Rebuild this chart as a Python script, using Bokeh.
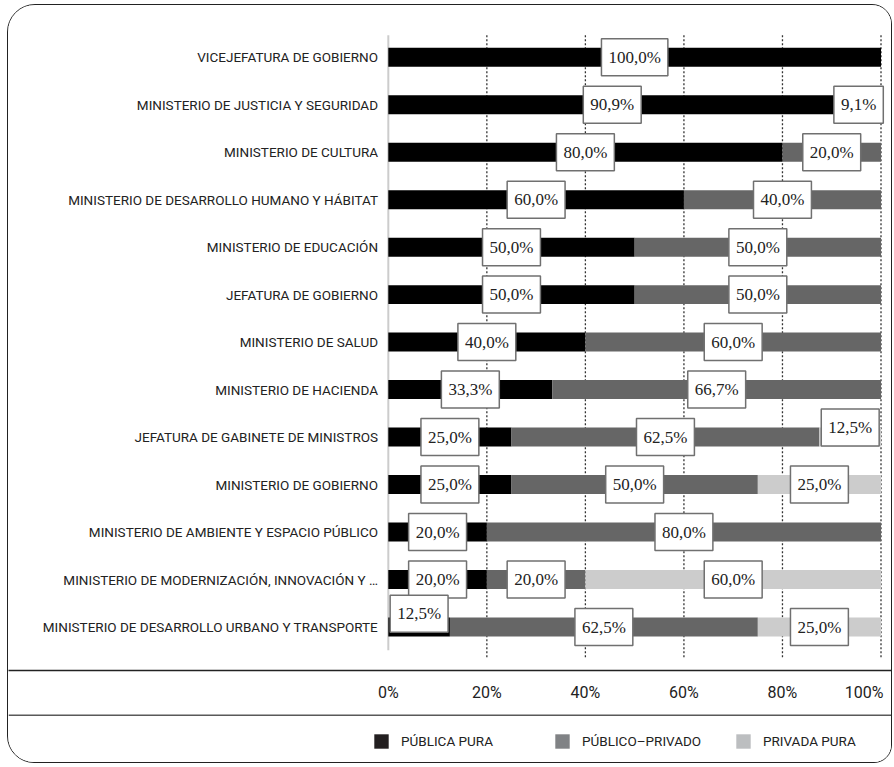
from bokeh.plotting import figure
from bokeh.layouts import column
from bokeh.models import (Range1d, FixedTicker, LinearAxis, Legend, LegendItem,
                          ColumnDataSource, Span)
from bokeh.core.properties import value
from bokeh.embed import file_html
from bokeh.resources import INLINE

categories = [
    "VICEJEFATURA DE GOBIERNO",
    "MINISTERIO DE JUSTICIA Y SEGURIDAD",
    "MINISTERIO DE CULTURA",
    "MINISTERIO DE DESARROLLO HUMANO Y HÁBITAT",
    "MINISTERIO DE EDUCACIÓN",
    "JEFATURA DE GOBIERNO",
    "MINISTERIO DE SALUD",
    "MINISTERIO DE HACIENDA",
    "JEFATURA DE GABINETE DE MINISTROS",
    "MINISTERIO DE GOBIERNO",
    "MINISTERIO DE AMBIENTE Y ESPACIO PÚBLICO",
    "MINISTERIO DE MODERNIZACIÓN, INNOVACIÓN Y …",
    "MINISTERIO DE DESARROLLO URBANO Y TRANSPORTE",
]
publica_pura = [100.0, 90.9, 80.0, 60.0, 50.0, 50.0, 40.0, 33.3, 25.0, 25.0, 20.0, 20.0, 12.5]
publico_privado = [0.0, 9.1, 20.0, 40.0, 50.0, 50.0, 60.0, 66.7, 62.5, 50.0, 80.0, 20.0, 62.5]
privada_pura = [0.0, 0.0, 0.0, 0.0, 0.0, 0.0, 0.0, 0.0, 12.5, 25.0, 0.0, 60.0, 25.0]
series_names = ["PÚBLICA PURA", "PÚBLICO–PRIVADO", "PRIVADA PURA"]
bar_colors = ["#000000", "#666666", "#cccccc"]
legend_colors = ["#231f20", "#808285", "#bcbec0"]
x_ticks = [0, 20, 40, 60, 80, 100]
x_tick_labels = ["0%", "20%", "40%", "60%", "80%", "100%\u00a0\u00a0"]

# label boxes lifted to avoid overlap (row, series) -> offset in row units
label_lift = {(8, 2): 0.2, (12, 0): 0.28}

SANS = "Roboto"
SERIF = "Liberation Serif"

n = len(categories)
ys = [n - 1 - i for i in range(n)]

p = figure(width=883, height=709, output_backend="svg", toolbar_location=None,
           x_range=Range1d(-77.09, 102.13), y_range=Range1d(-0.916, 13.089),
           x_axis_location=None, y_axis_location=None,
           min_border_left=0, min_border_right=0, min_border_top=0, min_border_bottom=44)
p.outline_line_color = None
p.xgrid.visible = False
p.ygrid.visible = False

# vertical axis line and dotted gridlines
p.segment(x0=[0], x1=[0], y0=[12.46], y1=[-0.49], line_color="#cccccc", line_width=2)
grid_x = [t for t in x_ticks if t > 0]
p.segment(x0=grid_x, x1=grid_x, y0=[12.46] * len(grid_x), y1=[-0.66] * len(grid_x),
          line_color="#333333", line_width=1.3, line_dash="2 2")

series = [publica_pura, publico_privado, privada_pura]
lefts = [0.0] * n
lab_x, lab_y, lab_t = [], [], []
for s_idx, (vals, col) in enumerate(zip(series, bar_colors)):
    rights = [l + v for l, v in zip(lefts, vals)]
    src = ColumnDataSource(dict(y=ys, left=lefts, right=rights))
    p.hbar(y="y", left="left", right="right", height=0.4, source=src,
           fill_color=col, line_color=None)
    for i, v in enumerate(vals):
        if v > 0:
            lab_x.append((lefts[i] + rights[i]) / 2)
            lab_y.append(ys[i] + label_lift.get((i, s_idx), 0.0))
            lab_t.append(f"{v:.1f}%".replace(".", ","))
    lefts = rights

p.text(x=lab_x, y=lab_y, text=lab_t, text_align="center", text_baseline="middle",
       text_font=value(SERIF), text_font_size="17px", text_color="#222222",
       background_fill_color="white", border_line_color="#707070", border_line_width=1.5,
       padding=(7, 9))

# category labels
p.text(x=[-2.09] * n, y=ys, text=categories, text_align="right", text_baseline="middle",
       text_font=value(SANS), text_font_size="13.5px", text_color="#222222")

# bottom axis
xa = LinearAxis(ticker=FixedTicker(ticks=x_ticks),
                major_label_overrides={t: l for t, l in zip(x_ticks, x_tick_labels)},
                major_tick_out=0, major_tick_in=0, minor_tick_out=0, minor_tick_in=0,
                axis_line_color="#222222", axis_line_width=1.5,
                major_label_standoff=12, major_label_text_font=SANS,
                major_label_text_font_size="16px", major_label_text_color="#222222")
p.add_layout(xa, "below")

# legend strip
p2 = figure(width=883, height=48, output_backend="svg", toolbar_location=None,
            x_range=Range1d(0, 883), y_range=Range1d(0, 48),
            x_axis_location=None, y_axis_location=None,
            min_border_left=0, min_border_right=0, min_border_top=0, min_border_bottom=0)
p2.outline_line_color = None
p2.xgrid.visible = False
p2.ygrid.visible = False
p2.add_layout(Span(location=47.4, dimension="width", line_color="#222222", line_width=1.5))
items = []
for name, col in zip(series_names, legend_colors):
    # zero-size proxy glyph: only its legend swatch is visible
    r = p2.quad(left=[0], right=[0], top=[0], bottom=[0], fill_color=col, line_color=None)
    items.append(LegendItem(label=name, renderers=[r]))
leg = Legend(items=items, orientation="horizontal", location=(364, 12),
             glyph_width=18, glyph_height=18, label_standoff=11, label_width=150,
             spacing=2, padding=0, margin=0, border_line_color=None,
             background_fill_alpha=0, label_text_font=SANS, label_text_font_size="13.5px",
             label_text_color="#222222")
p2.add_layout(leg)

layout = column(p, p2, spacing=0,
                styles={"border": "1.5px solid #222222",
                        "border-radius": "28px 20px 18px 27px",
                        "margin-left": "7px", "margin-top": "4px",
                        "overflow": "hidden"})

open("out.html", "w").write(file_html(layout, INLINE))
